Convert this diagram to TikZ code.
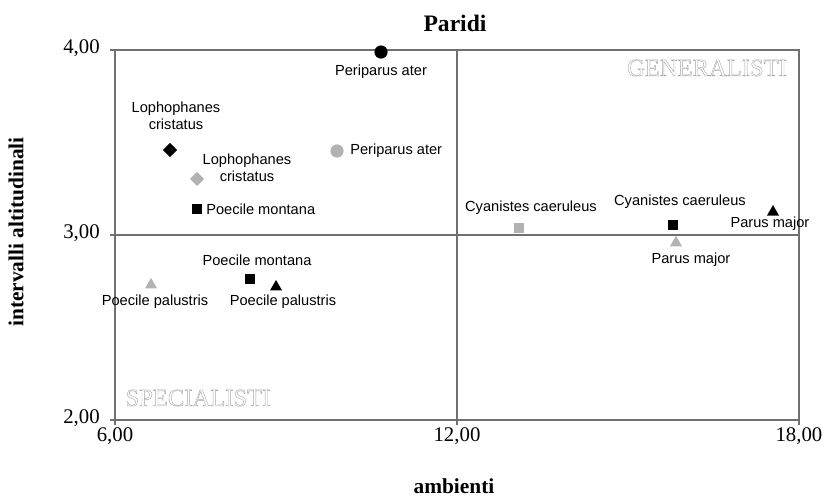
\documentclass[tikz,border=0pt]{standalone}
\usepackage{fontspec}
\setmainfont{Liberation Serif}
\newfontfamily\labelfont{Liberation Sans}
\usetikzlibrary{shapes.geometric}
\definecolor{framegray}{RGB}{112,112,112}
\definecolor{markgray}{RGB}{178,178,178}
\newcommand{\hollow}[1]{\special{pdf:literal direct 1 Tr 0.3 w 0.65 G}#1\special{pdf:literal direct 0 Tr 0 G}}
\tikzset{
  dot/.style={circle, inner sep=0pt, minimum size=3.3mm},
  sq/.style={rectangle, inner sep=0pt, minimum size=2.7mm},
  dia/.style={diamond, inner sep=0pt, minimum size=3.6mm},
  tri/.style={regular polygon, regular polygon sides=3, inner sep=0pt, minimum size=3.5mm},
  blk/.style={fill=black},
  gry/.style={fill=markgray},
  lab/.style={font=\labelfont\fontsize{10.4}{12.2}\selectfont, inner sep=0pt, align=center},
  tick/.style={font=\fontsize{14.8}{16}\selectfont, inner sep=0pt},
  axis/.style={font=\bfseries\fontsize{15.2}{17}\selectfont, inner sep=0pt},
}
\begin{document}
\begin{tikzpicture}[x=1.425cm, y=4.625cm]
  \useasboundingbox (3.9825,1.5784) rectangle (18.439,4.2703);
  % cornice e quadranti
  \draw [framegray, line width=1pt] (6,2) rectangle (18,4);
  \draw [framegray, line width=1pt] (12,2) -- (12,4);
  \draw [framegray, line width=1pt] (6,3) -- (18,3);
  \foreach \y/\t in {2/{2,00},3/{3,00},4/{4,00}} {
    \draw [framegray, line width=1pt] (6,\y) -- (5.912,\y);
    \node [tick, anchor=east] (ty\y) at (5.737,\y+0.008) {\t};
  }
  \foreach \x/\t in {6/{6,00},12/{12,00},18/{18,00}} {
    \draw [framegray, line width=1pt] (\x,2) -- (\x,1.973);
    \node [tick] (tx\x) at (\x,1.914) {\t};
  }
  \node [axis] (titolo) at (11.965,4.146) {\fontsize{16.8}{18}\selectfont Paridi};
  \node [axis] (asx) at (11.947,1.642) {ambienti};
  \node [axis, rotate=90] (asy) at (4.263,3.016) {intervalli altitudinali};
  % specie
  \node [dot, blk] (aterB) at (10.667,3.989) {};
  \node [lab] (aterBlab) at (10.667,3.881) {Periparus ater};
  \node [dot, gry] (aterG) at (9.895,3.454) {};
  \node [lab, anchor=west] (aterGlab) at (10.123,3.454) {Periparus ater};
  \node [dia, blk] (crisB) at (6.965,3.459) {};
  \node [lab] (crisBlab) at (7.070,3.643) {Lophophanes\\cristatus};
  \node [dia, gry] (crisG) at (7.439,3.303) {};
  \node [lab] (crisGlab) at (8.316,3.362) {Lophophanes\\cristatus};
  \node [sq, blk] (montB) at (7.439,3.141) {};
  \node [lab, anchor=west] (montBlab) at (7.596,3.141) {Poecile montana};
  \node [sq, blk] (montC) at (8.368,2.762) {};
  \node [lab] (montClab) at (8.491,2.865) {Poecile montana};
  \node [tri, blk] (palB) at (8.825,2.719) {};
  \node [lab] (palBlab) at (8.947,2.638) {Poecile palustris};
  \node [tri, gry] (palG) at (6.632,2.730) {};
  \node [lab] (palGlab) at (6.702,2.638) {Poecile palustris};
  \node [sq, gry] (caerG) at (13.088,3.038) {};
  \node [lab] (caerGlab) at (13.298,3.146) {Cyanistes caeruleus};
  \node [sq, blk] (caerB) at (15.789,3.054) {};
  \node [lab] (caerBlab) at (15.912,3.178) {Cyanistes caeruleus};
  \node [tri, gry] (majG) at (15.842,2.957) {};
  \node [lab] (majGlab) at (16.105,2.865) {Parus major};
  \node [tri, blk] (majB) at (17.544,3.124) {};
  \node [lab] (majBlab) at (17.491,3.059) {Parus major};
  % etichette dei quadranti
  \node [inner sep=0pt, font=\fontsize{17.5}{19}\selectfont] (gen) at (16.386,3.903) {\hollow{GENERALISTI}};
  \node [inner sep=0pt, font=\fontsize{17.5}{19}\selectfont] (spec) at (7.456,2.119) {\hollow{SPECIALISTI}};
\end{tikzpicture}
\end{document}
